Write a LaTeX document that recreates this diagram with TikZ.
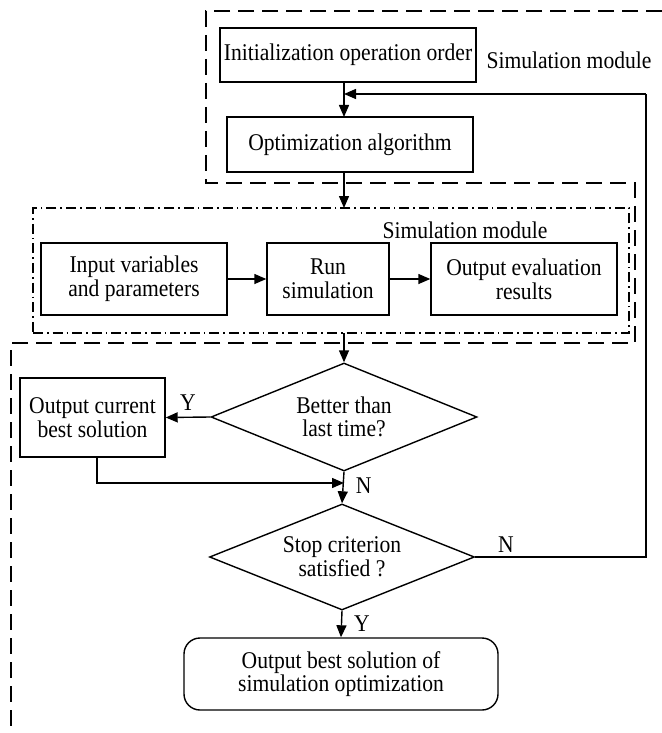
\documentclass[tikz,border=0pt]{standalone}
\usepackage{fontspec}
\setmainfont{Liberation Serif}[FakeStretch=0.9]
\usetikzlibrary{arrows.meta}
\usetikzlibrary{shapes.geometric}
\usetikzlibrary{positioning}

\begin{document}
\begin{tikzpicture}[x=0.5pt,y=-0.5pt,
	font=\fontsize{12}{11.8}\selectfont,
	line width=0.7pt,
	>={Triangle[length=6pt,width=5pt]}]
	\useasboundingbox (0,0) rectangle (662,733);

	% module outlines
	\draw[dash pattern=on 8pt off 4pt] (662,11) -- (206,11) -- (206,183) -- (635,183)
		-- (635,343) -- (11,343) -- (11,733);

	\begin{scope}[every node/.style={draw, align=center, inner sep=2pt}]
		\node[minimum width=128pt, minimum height=27pt] (init) at (348,55) {Initialization operation order};
		\node[minimum width=123pt, minimum height=27.5pt] (optim) at (350,144.5) {Optimization algorithm};
		\node[dash pattern=on 5pt off 2pt on 0.8pt off 2pt, minimum width=298pt, minimum height=62.5pt] (simmod) at (331,270.5) {};
		\node[minimum width=93pt, minimum height=36pt] (input) at (134,279) {Input variables\\and parameters};
		\node[minimum width=61pt, minimum height=36pt] (run) at (328,279) {Run\\simulation};
		\node[minimum width=93pt, minimum height=36pt] (evalout) at (524,279) {Output evaluation\\results};
		\node[diamond, aspect=2.46, inner sep=0pt, minimum width=133pt, minimum height=54pt] (better) at (344,417) {Better than\\last time?};
		\node[minimum width=72.5pt, minimum height=39.5pt] (curbest) at (92.5,417.5) {Output current\\best solution};
		\node[diamond, aspect=2.46, inner sep=0pt, minimum width=132.5pt, minimum height=53pt] (stop) at (342,557) {Stop criterion\\satisfied ?};
		\node[rounded corners=8pt, minimum width=157pt, minimum height=36pt] (final) at (341,674) {Output best solution of\\simulation optimization};
	\end{scope}

	\node (lab1) at (569,60) {Simulation module};
	\node (lab2) at (465,230) {Simulation module};

	\coordinate (join1) at (344,94);
	\coordinate (fbtop) at (646,94);
	\coordinate (join2) at (344,483);

	\begin{scope}[every node/.style={inner sep=2pt}]
		\draw[->] (344,82) -- (344,117);
		\draw[->] (fbtop) -- (join1);
		\draw[->] (344,172) -- (344,208);
		\draw[->] (input) -- (run);
		\draw[->] (run) -- (evalout);
		\draw[->] (344,333) -- (better.north);
		\draw[->] (better.west) -- node[above, yshift=1pt]{Y} (curbest.east);
		\draw[->] (curbest.south -| 97,0) |- (join2);
		\draw[->] (better.south) -- node[right, pos=0.45, xshift=4pt]{N} (stop.north);
		\draw (stop.east) -- node[above, pos=0.18]{N} (stop.east -| fbtop) -- (fbtop);
		\draw[->] (stop.south) -- node[right, xshift=4pt]{Y} (final.north);
	\end{scope}
\end{tikzpicture}
\end{document}
